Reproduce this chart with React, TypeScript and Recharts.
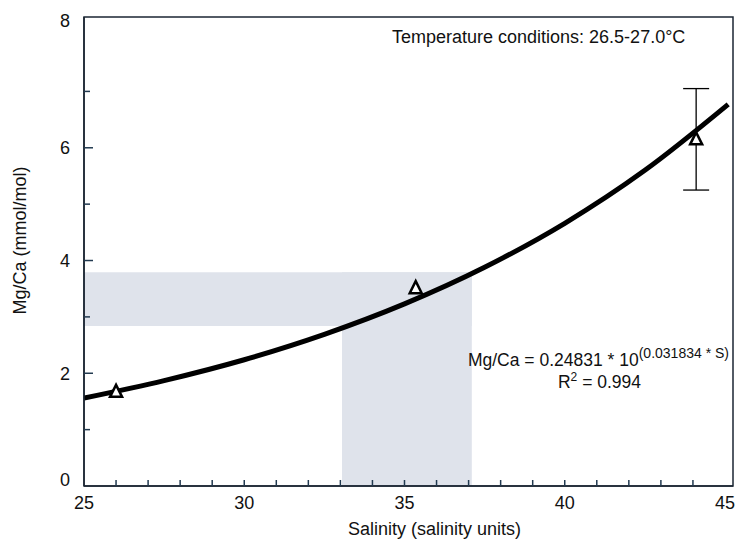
import {
  ComposedChart,
  Line,
  Scatter,
  ErrorBar,
  XAxis,
  YAxis,
  ReferenceArea,
  ReferenceDot,
  Label,
} from 'recharts';

// fitted curve
const curveSalinity = [25, 27.5, 30, 32.5, 35, 37.5, 40, 42.5, 45.1];
const curveMgCa = [1.56, 1.87, 2.24, 2.69, 3.23, 3.88, 4.66, 5.6, 6.77];

// measured samples
const sampleSalinity = [26, 35.35, 44.1];
const sampleMgCa = [1.67, 3.51, 6.15];
const sampleErr = [0, 0, 0.9];

const salinityTicks = [25, 26, 27, 28, 29, 30, 31, 32, 33, 34, 35, 36, 37, 38, 39, 40, 41, 42, 43, 44, 45];
const mgcaTicks = [0, 1, 2, 3, 4, 5, 6, 7, 8];

// shaded salinity / Mg/Ca window
const bandSalinity = [33.05, 37.1];
const bandMgCa = [2.84, 3.79];

const X_MAX = 45.25;
const Y_MAX = 8.32;
const MARGIN_TOP = 17;
const FONT = '"Liberation Sans", Arial, sans-serif';
const AXIS = '#1b2633';
const TICK = '#223a50';
const SHADE = '#dfe3eb';

const curveData = curveSalinity.map((s, i) => ({ s, mg: curveMgCa[i] }));
const pointData = sampleSalinity.map((s, i) => ({ s, mg: sampleMgCa[i], err: sampleErr[i] }));

function XTick(props: any) {
  const { x, y, payload } = props;
  const v = payload.value;
  const axisY = y - 10;
  const major = v % 5 === 0;
  return (
    <g>
      {v !== 25 && v !== 45 && (
        <line x1={x} x2={x} y1={axisY} y2={axisY - 6} stroke={TICK} strokeWidth={1.5} />
      )}
      {major && (
        <text x={x} y={y} dy="0.71em" textAnchor="middle" fontSize={18} fill="#111" fontFamily={FONT}>
          {v}
        </text>
      )}
    </g>
  );
}

function YTick(props: any) {
  const { x, y, payload } = props;
  const v = payload.value;
  const axisX = x + 14;
  const major = v % 2 === 0;
  const labelY = v === 8 ? MARGIN_TOP + 4 : v === 0 ? y - 6 : y;
  return (
    <g>
      {v !== 0 && v !== 8 && (
        <line x1={axisX} x2={axisX + (major ? 9 : 6)} y1={y} y2={y} stroke={TICK} strokeWidth={1.5} />
      )}
      {major && (
        <text x={x} y={labelY} dy="0.355em" textAnchor="end" fontSize={18} fill="#111" fontFamily={FONT}>
          {v}
        </text>
      )}
    </g>
  );
}

function Triangle(props: any) {
  const { cx, cy } = props;
  return (
    <path
      d={`M${cx},${cy - 7} L${cx + 6},${cy + 5} L${cx - 6},${cy + 5} Z`}
      fill="#fff"
      stroke="#000"
      strokeWidth={2.5}
      strokeLinejoin="miter"
    />
  );
}

export default function App() {
  return (
    <div style={{ position: 'absolute', left: 0, top: 0 }}>
      <ComposedChart width={739} height={541} margin={{ top: MARGIN_TOP, right: 6, bottom: 0, left: 0 }}>
        <XAxis
          type="number"
          dataKey="s"
          domain={[25, X_MAX]}
          allowDataOverflow
          ticks={salinityTicks}
          interval={0}
          tickSize={0}
          tickMargin={10}
          tick={XTick}
          height={55}
          axisLine={{ stroke: AXIS, strokeWidth: 1.5 }}
        >
          <Label
            content={(p: any) => {
              const { x, y, width } = p.viewBox;
              return (
                <text x={x + width / 2 + 26} y={y + 49} textAnchor="middle" fontSize={18} fill="#111" fontFamily={FONT}>
                  Salinity (salinity units)
                </text>
              );
            }}
          />
        </XAxis>
        <YAxis
          type="number"
          dataKey="mg"
          domain={[0, Y_MAX]}
          allowDataOverflow
          ticks={mgcaTicks}
          interval={0}
          tickSize={0}
          tickMargin={14}
          tick={YTick}
          width={84}
          axisLine={{ stroke: AXIS, strokeWidth: 1.5 }}
        >
          <Label
            content={(p: any) => {
              const { x, y, height } = p.viewBox;
              const cx = x + 20;
              const cy = y + height / 2 - 11;
              return (
                <text
                  x={cx}
                  y={cy}
                  transform={`rotate(-90 ${cx} ${cy})`}
                  textAnchor="middle"
                  dominantBaseline="central"
                  fontSize={18}
                  fill="#111"
                  fontFamily={FONT}
                >
                  Mg/Ca (mmol/mol)
                </text>
              );
            }}
          />
        </YAxis>

        <ReferenceArea x1={25} x2={bandSalinity[1]} y1={bandMgCa[0]} y2={bandMgCa[1]} fill={SHADE} fillOpacity={1} stroke="none" />
        <ReferenceArea x1={bandSalinity[0]} x2={bandSalinity[1]} y1={0} y2={bandMgCa[1]} fill={SHADE} fillOpacity={1} stroke="none" />
        <ReferenceArea x1={25} x2={X_MAX} y1={0} y2={Y_MAX} fill="none" stroke={AXIS} strokeWidth={1.5} />

        <Line
          data={curveData}
          dataKey="mg"
          type="monotone"
          stroke="#000"
          strokeWidth={5}
          dot={false}
          isAnimationActive={false}
        />
        <Scatter data={pointData} dataKey="mg" shape={Triangle} isAnimationActive={false}>
          <ErrorBar dataKey="err" direction="y" width={13} stroke="#000" strokeWidth={1.3} isAnimationActive={false} />
        </Scatter>

        <ReferenceDot
          x={34.61}
          y={7.85}
          r={0}
          stroke="none"
          label={(p: any) => (
            <text x={p.viewBox.x} y={p.viewBox.y} fontSize={18} fill="#111" fontFamily={FONT}>
              Temperature conditions: 26.5-27.0°C
            </text>
          )}
        />
        <ReferenceDot
          x={36.98}
          y={2.12}
          r={0}
          stroke="none"
          label={(p: any) => (
            <g fontFamily={FONT} fill="#111">
              <text x={p.viewBox.x} y={p.viewBox.y} fontSize={17.5}>
                Mg/Ca = 0.24831 * 10
                <tspan dy={-8} fontSize={14}>(0.031834 * S)</tspan>
              </text>
              <text x={p.viewBox.x + 90} y={p.viewBox.y + 21.5} fontSize={17.5}>
                R
                <tspan dy={-7} fontSize={12}>2</tspan>
                <tspan dy={7}> = 0.994</tspan>
              </text>
            </g>
          )}
        />
      </ComposedChart>
    </div>
  );
}
